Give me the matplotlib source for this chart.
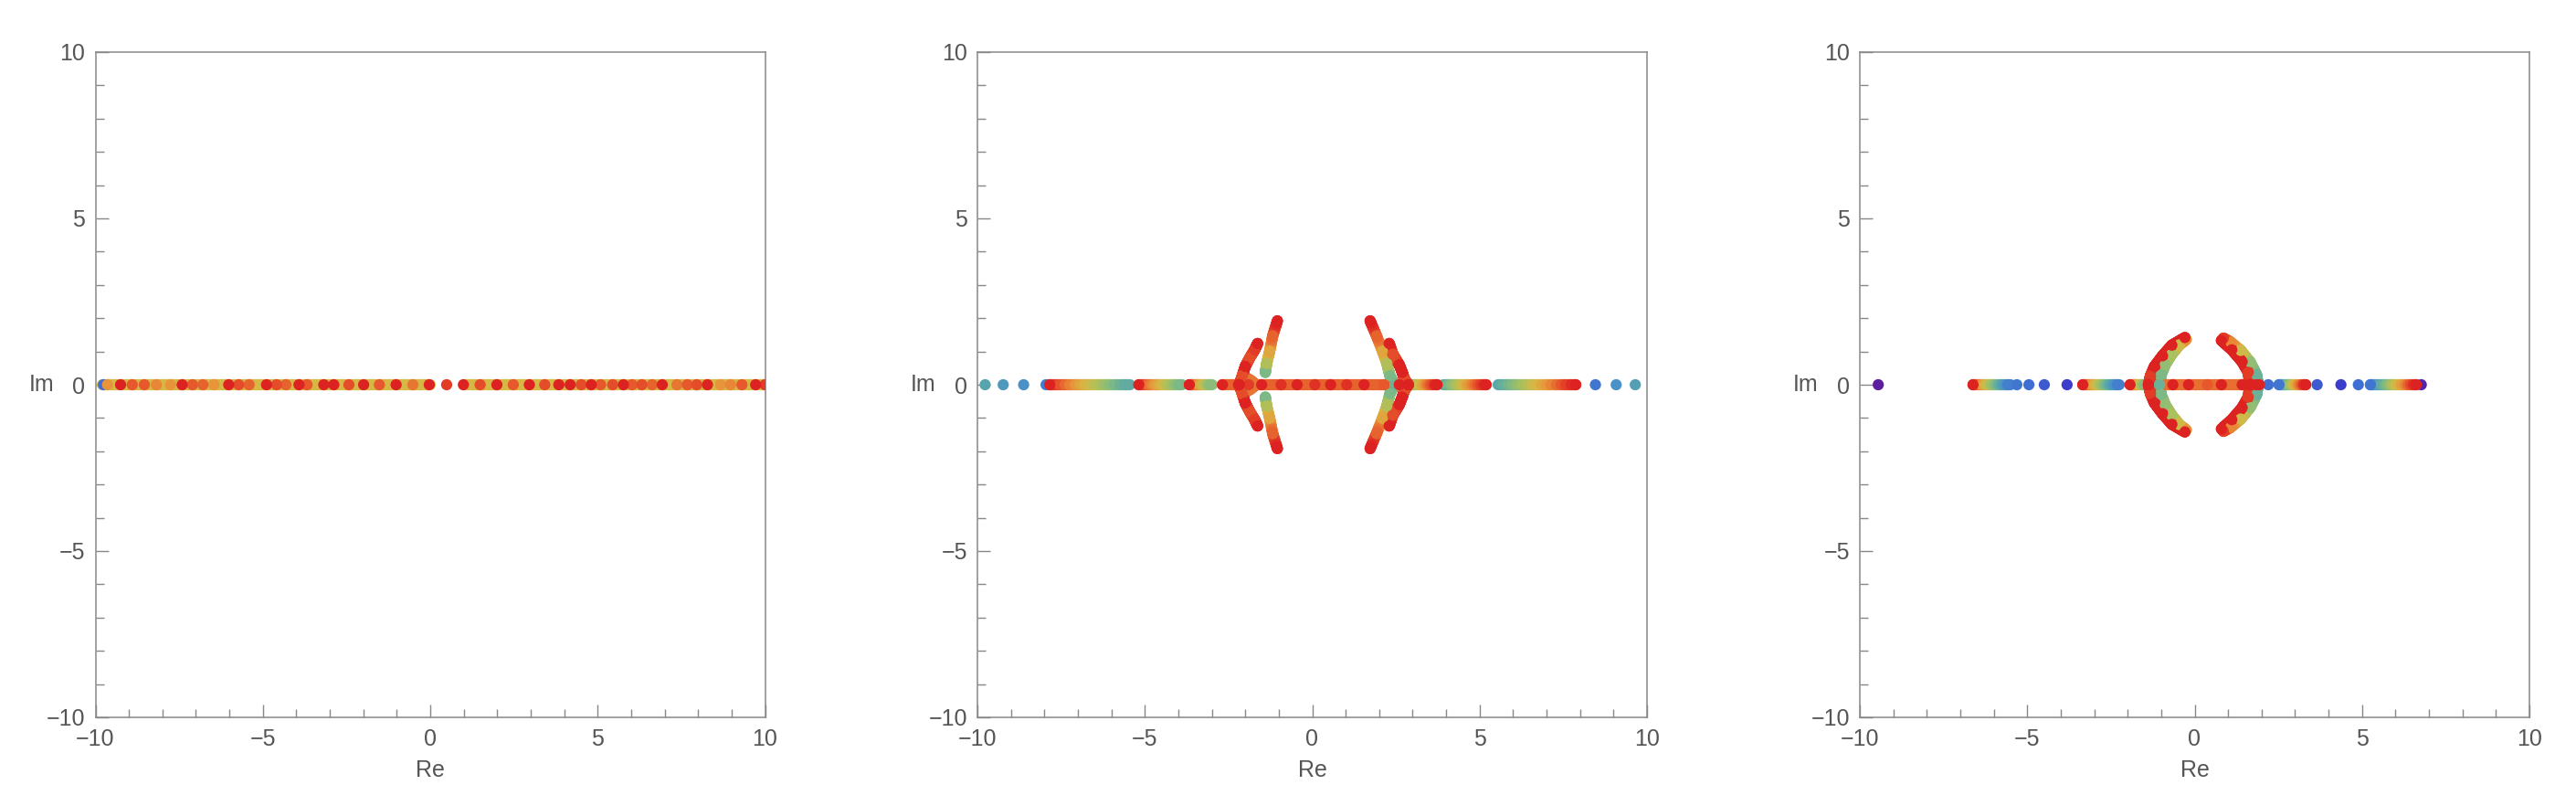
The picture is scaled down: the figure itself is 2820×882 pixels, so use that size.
import numpy as np
import matplotlib.pyplot as plt
from matplotlib.colors import LinearSegmentedColormap
from matplotlib.collections import LineCollection
from matplotlib.ticker import MultipleLocator

plt.rcParams['font.family'] = ['Liberation Sans Narrow', 'Liberation Sans', 'DejaVu Sans']

# colour scale for the parameter value t (0 = purple ... 1 = red)
RAINBOW = ["#5b1fa0", "#3b3fcc", "#3f6fd3", "#4a93c5", "#5aa8a8", "#7cb986",
           "#a9c15e", "#d6b945", "#e8943a", "#e7592c", "#dd2222"]
cmap = LinearSegmentedColormap.from_list("rainbow_mma", RAINBOW)

# ---------------- panel 1 : all roots on the real axis ----------------
p1_x = [-9.76, -9.64, -9.25, -8.90, -8.54, -8.18, -7.76, -7.41, -7.10, -6.79,
        -6.46, -6.02, -5.72, -5.41, -4.89, -4.59, -4.31, -3.92, -3.68, -3.18,
        -2.88, -2.43, -1.99, -1.52, -1.02, -0.52, -0.03, 0.49, 0.99, 1.49,
        1.99, 2.48, 2.96, 3.42, 3.84, 4.18, 4.51, 4.81, 5.09, 5.45,
        5.77, 6.03, 6.32, 6.63, 6.93, 7.37, 7.68, 7.96, 8.28, 8.67,
        8.97, 9.31, 9.72, 10.0]
p1_t = [0.20, 0.80, 1.00, 0.90, 0.90, 0.82, 0.80, 1.00, 0.90, 0.88,
        0.80, 1.00, 0.92, 0.88, 1.00, 0.92, 0.88, 1.00, 0.90, 1.00,
        1.00, 0.92, 1.00, 0.90, 1.00, 0.85, 1.00, 0.95, 1.00, 0.92,
        1.00, 0.90, 1.00, 0.92, 1.00, 1.00, 0.92, 1.00, 0.90, 0.92,
        1.00, 0.90, 0.92, 0.88, 1.00, 0.85, 0.90, 0.92, 1.00, 0.80,
        0.82, 0.90, 1.00, 0.95]
# dense runs of points along the axis: (x start, x end, t start, t end)
p1_strips = [(-9.8, 0.0, 0.70, 0.70), (1.0, 10.0, 0.70, 0.70)]
p1_arcs = []

# ---------------- panel 2 ----------------
p2_x = [-9.77, -9.23, -8.62, -7.95, -7.84, -5.18, -3.67, -2.68, -2.20, -1.90,
        -1.51, -0.93, -0.45, 0.08, 0.55, 1.03, 1.55, 2.14, 2.60, 2.87,
        3.73, 5.19, 7.87, 8.46, 9.08, 9.65]
p2_t = [0.38, 0.33, 0.30, 0.24, 1.00, 1.00, 1.00, 1.00, 1.00, 0.95,
        1.00, 0.97, 1.00, 0.97, 1.00, 0.97, 1.00, 0.90, 1.00, 1.00,
        1.00, 1.00, 1.00, 0.22, 0.30, 0.36]
p2_strips = [(-7.84, -5.45, 1.00, 0.40), (-5.18, -3.90, 1.00, 0.48),
             (-3.67, -3.00, 1.00, 0.52), (-2.68, 2.87, 0.88, 0.88),
             (2.95, 3.73, 0.50, 1.00), (3.92, 5.19, 0.40, 1.00),
             (5.55, 7.87, 0.38, 1.00)]
# complex branches, upper half (lower half is the conjugate)
p2_arcs = [
    ([-1.40, -1.36, -1.27, -1.18, -1.04], [0.37, 0.64, 1.01, 1.47, 1.92],
     [0.50, 0.62, 0.75, 0.88, 1.00]),
    ([-2.18, -2.09, -2.00, -1.86, -1.72, -1.63], [0.00, 0.27, 0.55, 0.82, 1.05, 1.24],
     [1.00, 0.92, 1.00, 0.92, 0.95, 1.00]),
    ([-2.09, -1.85, -1.68], [0.27, 0.14, 0.00], [0.88, 0.85, 0.85]),
    ([2.46, 2.32, 2.23, 2.10, 1.92, 1.73], [0.00, 0.27, 0.64, 1.01, 1.47, 1.92],
     [0.45, 0.50, 0.62, 0.75, 0.88, 1.00]),
    ([2.87, 2.75, 2.69, 2.60, 2.41, 2.30], [0.00, 0.18, 0.37, 0.60, 0.92, 1.24],
     [1.00, 0.92, 1.00, 1.00, 0.92, 1.00]),
]

# ---------------- panel 3 ----------------
p3_x = [-9.45, -6.62, -5.31, -4.95, -4.49, -3.81, -3.34, -1.93, -0.65, -0.18,
        0.38, 0.80, 1.42, 1.84, 1.93, 2.20, 2.52, 3.32, 3.66, 4.37,
        4.89, 5.25, 6.62, 6.77]
p3_t = [0.00, 1.00, 0.22, 0.20, 0.16, 0.10, 1.00, 1.00, 1.00, 1.00,
        0.90, 1.00, 1.00, 1.00, 1.00, 0.20, 0.22, 1.00, 0.16, 0.10,
        0.20, 0.22, 1.00, 0.02]
p3_strips = [(-6.62, -5.50, 1.00, 0.22), (-3.34, -2.25, 1.00, 0.22),
             (-1.93, -1.45, 1.00, 0.50), (-1.38, 1.84, 0.86, 0.86),
             (2.52, 3.32, 0.22, 1.00), (5.25, 6.62, 0.20, 1.00)]
p3_arcs = [
    ([-1.05, -1.00, -0.88, -0.68, -0.45, -0.25], [0.00, 0.30, 0.60, 0.92, 1.20, 1.36],
     [0.45, 0.50, 0.55, 0.60, 0.68, 0.80]),
    ([-1.38, -1.32, -1.20, -0.96, -0.68, -0.29], [0.00, 0.27, 0.55, 0.87, 1.19, 1.42],
     [1.00, 0.95, 1.00, 1.00, 1.00, 1.00]),
    ([1.90, 1.85, 1.66, 1.38, 1.08, 0.86], [0.00, 0.30, 0.68, 1.03, 1.28, 1.40],
     [0.42, 0.45, 0.55, 0.68, 0.82, 0.95]),
    ([1.65, 1.60, 1.42, 1.11, 0.80], [0.00, 0.37, 0.69, 1.05, 1.33],
     [1.00, 0.95, 1.00, 1.00, 1.00]),
]

PANELS = [(p1_x, p1_t, p1_strips, p1_arcs),
          (p2_x, p2_t, p2_strips, p2_arcs),
          (p3_x, p3_t, p3_strips, p3_arcs)]

DOT_SIZE = 78      # scatter area, pt^2
TRAIL_WIDTH = 8.8  # width of the dense point runs, pt


def gradient_path(ax, xs, ys, ts, steps=16):
    """Draw a run of overlapping points as a thick line whose colour follows t."""
    segs, cols = [], []
    for i in range(len(xs) - 1):
        for k in range(steps):
            a, b = k / steps, (k + 1) / steps
            p0 = (xs[i] + a * (xs[i + 1] - xs[i]), ys[i] + a * (ys[i + 1] - ys[i]))
            p1 = (xs[i] + b * (xs[i + 1] - xs[i]), ys[i] + b * (ys[i + 1] - ys[i]))
            segs.append([p0, p1])
            cols.append(cmap(ts[i] + (a + b) / 2 * (ts[i + 1] - ts[i])))
    lc = LineCollection(segs, colors=cols, linewidths=TRAIL_WIDTH,
                        capstyle='round', zorder=2)
    ax.add_collection(lc)


def style_axes(ax):
    ax.set_xlim(-10, 10)
    ax.set_ylim(-10, 10)
    for ax_ in (ax.xaxis, ax.yaxis):
        ax_.set_major_locator(MultipleLocator(5))
        ax_.set_minor_locator(MultipleLocator(1))
    ax.tick_params(which='both', direction='in', top=False, right=False,
                   color='#888888', width=1.0, labelcolor='#555555', labelsize=18)
    ax.tick_params(which='major', length=10)
    ax.tick_params(which='minor', length=6.5)
    ax.tick_params(axis='x', pad=9)
    ax.tick_params(axis='y', pad=8)
    for sp in ax.spines.values():
        sp.set_color('#888888')
        sp.set_linewidth(1.1)
    ax.set_xlabel('Re', fontsize=18, color='#555555', va='center')
    ax.set_ylabel('Im', fontsize=18, color='#555555', rotation=0, va='center', ha='center')
    ax.xaxis.set_label_coords(0.5, -0.080)
    ax.yaxis.set_label_coords(-0.081, 0.5)


fig = plt.figure(figsize=(28.2, 8.82), dpi=100)
W, H = 2820.0, 882.0
lefts = [104.5, 1070.0, 2036.0]
for left, (px, pt, strips, arcs) in zip(lefts, PANELS):
    ax = fig.add_axes([left / W, (H - 785) / H, 733 / W, 728 / H])
    style_axes(ax)

    # runs on the real axis and complex branches, low t first
    paths = [([a, b], [0.0, 0.0], [ta, tb]) for a, b, ta, tb in strips]
    for xs, ys, ts in arcs:
        paths.append((xs, ys, ts))
        paths.append((xs, [-v for v in ys], ts))
    paths.sort(key=lambda p: np.mean(p[2]))
    for xs, ys, ts in paths:
        gradient_path(ax, xs, ys, ts)

    # individual points, red ones drawn last (on top)
    dx = list(px)
    dy = [0.0] * len(px)
    dt = list(pt)
    for xs, ys, ts in arcs:
        dx += xs + xs
        dy += ys + [-v for v in ys]
        dt += ts + ts
    order = np.argsort(dt, kind='stable')
    ax.scatter(np.array(dx)[order], np.array(dy)[order], c=np.array(dt)[order],
               cmap=cmap, vmin=0, vmax=1, s=DOT_SIZE, linewidths=0, zorder=3)

fig.savefig('out.png', dpi=100, facecolor='white')
